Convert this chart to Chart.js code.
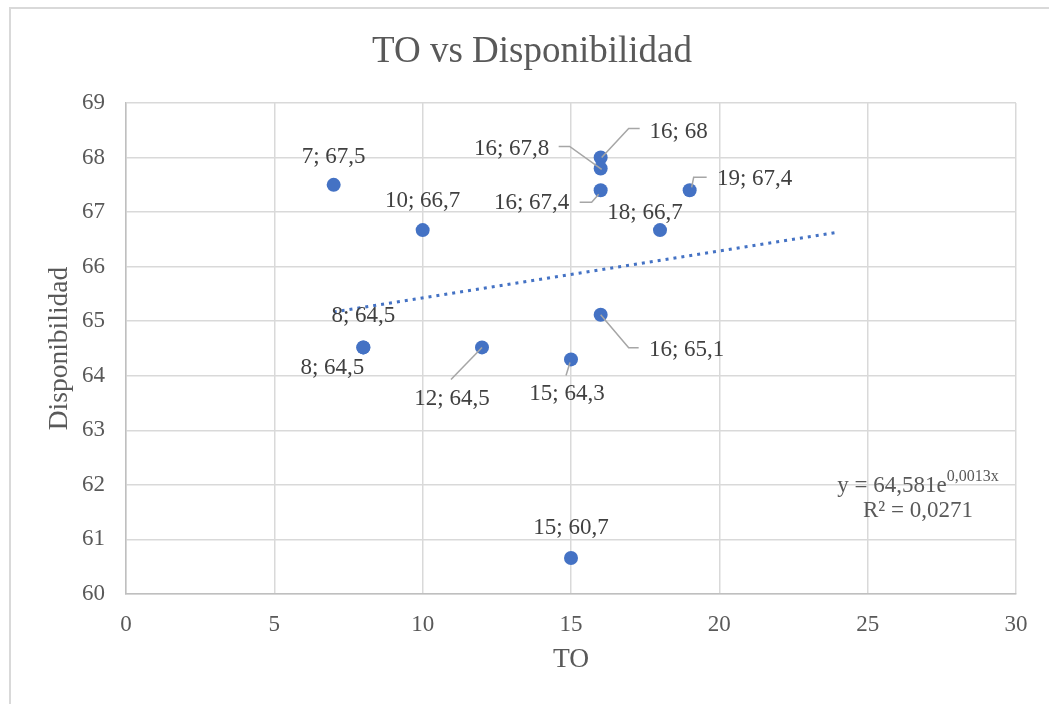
<!DOCTYPE html>
<html>
<head>
<meta charset="utf-8">
<script src="https://cdn.jsdelivr.net/npm/chart.js@4/dist/chart.umd.min.js"></script>
<style>
  body { margin: 0; background: #fff; }
  #wrap { width: 1049px; height: 704px; position: relative; }
</style>
</head>
<body>
<div id="wrap"><canvas id="toChart"></canvas></div>
<script>
// datos
const toValues = [7, 10, 16, 16, 16, 19, 18, 16, 8, 8, 12, 15, 15];
const dispValues = [67.5, 66.67, 68, 67.8, 67.4, 67.4, 66.67, 65.12, 64.52, 64.52, 64.52, 64.3, 60.66];
const trendX = [7, 24];
const trendY = [65.17, 66.63];
const xTicks = [0, 5, 10, 15, 20, 25, 30];
const yTicks = [60, 61, 62, 63, 64, 65, 66, 67, 68, 69];

const chartTitle = "TO vs Disponibilidad";
const xTitle = "TO";
const yTitle = "Disponibilidad";
const eqMain = "y = 64,581e";
const eqExp = "0,0013x";
const eqR2 = "R² = 0,0271";

const SERIF = "'Liberation Serif', 'Times New Roman', serif";
const BLUE = "#4472C4";

// label placement (px, relative to the point, text baseline)
const labelOffsets = [
  [0, -22], [0, -23], [78, -20], [-89, -13], [-69, 19], [65, -5], [-15, -11],
  [86, 41], [0, -25], [-31, 27], [-30, 58], [-4, 41], [0, -24]
];
const leaders = {
  2: [[1, 0], [28, -29], [39, -29]],
  3: [[1, 1], [-31, -22], [-42, -22]],
  4: [[-2, 4], [-9, 12], [-21, 12]],
  5: [[2, -3], [4, -13], [17, -13]],
  7: [[0, 0], [28, 33], [38, 33]],
  10: [[0, 0], [-31, 32]],
  11: [[-1, 3], [-5, 16]]
};

const fmt = v => String(Math.round(v * 10) / 10).replace(".", ",");

const excelBits = {
  id: "excelBits",
  beforeDraw(chart) {
    const ctx = chart.ctx;
    ctx.save();
    ctx.fillStyle = "#fff";
    ctx.fillRect(0, 0, chart.width, chart.height);
    ctx.strokeStyle = "#d9d9d9";
    ctx.lineWidth = 2;
    ctx.strokeRect(10, 8, 1100, 800);
    ctx.fillStyle = "#595959";
    ctx.font = "37px " + SERIF;
    ctx.textAlign = "center";
    ctx.textBaseline = "alphabetic";
    ctx.fillText(chartTitle, 532, 62);
    ctx.restore();
  },
  afterDatasetsDraw(chart) {
    const ctx = chart.ctx;
    const pts = chart.getDatasetMeta(0).data;
    ctx.save();
    ctx.strokeStyle = "#a6a6a6";
    ctx.lineWidth = 1.5;
    Object.keys(leaders).forEach(k => {
      const p = pts[k];
      const seg = leaders[k];
      ctx.beginPath();
      seg.forEach((o, j) => {
        if (j == 0) ctx.moveTo(p.x + o[0], p.y + o[1]);
        else ctx.lineTo(p.x + o[0], p.y + o[1]);
      });
      ctx.stroke();
    });
    ctx.fillStyle = "#404040";
    ctx.font = "23px " + SERIF;
    ctx.textAlign = "center";
    ctx.textBaseline = "alphabetic";
    pts.forEach((p, i) => {
      const o = labelOffsets[i];
      ctx.fillText(toValues[i] + "; " + fmt(dispValues[i]), p.x + o[0], p.y + o[1]);
    });

    // trendline equation
    ctx.fillStyle = "#595959";
    ctx.font = "23px " + SERIF;
    const w1 = ctx.measureText(eqMain).width;
    ctx.font = "16px " + SERIF;
    const w2 = ctx.measureText(eqExp).width;
    const x0 = 918 - (w1 + w2) / 2;
    ctx.textAlign = "left";
    ctx.font = "23px " + SERIF;
    ctx.fillText(eqMain, x0, 492);
    ctx.font = "16px " + SERIF;
    ctx.fillText(eqExp, x0 + w1, 481);
    ctx.font = "23px " + SERIF;
    ctx.textAlign = "center";
    ctx.fillText(eqR2, 918, 517);
    ctx.restore();
  }
};

new Chart(document.getElementById("toChart"), {
  type: "scatter",
  data: {
    datasets: [
      {
        label: "Disponibilidad",
        data: toValues.map((x, i) => ({ x: x, y: dispValues[i] })),
        backgroundColor: BLUE,
        borderColor: BLUE,
        borderWidth: 0,
        pointRadius: 7,
        pointHoverRadius: 7
      },
      {
        label: "Exponencial",
        data: trendX.map((x, i) => ({ x: x, y: trendY[i] })),
        showLine: true,
        borderColor: BLUE,
        borderWidth: 3,
        borderDash: [3, 5],
        pointRadius: 0,
        fill: false
      }
    ]
  },
  plugins: [excelBits],
  options: {
    responsive: true,
    maintainAspectRatio: false,
    animation: false,
    events: [],
    layout: { padding: { left: 0, top: 103, right: 33, bottom: 0 } },
    plugins: {
      legend: { display: false },
      tooltip: { enabled: false },
      title: { display: false }
    },
    scales: {
      x: {
        type: "linear",
        min: xTicks[0],
        max: xTicks[xTicks.length - 1],
        afterBuildTicks: s => { s.ticks = xTicks.map(v => ({ value: v })); },
        afterFit: s => { s.height = 110; },
        grid: { color: "#d9d9d9", lineWidth: 1.5, drawTicks: false },
        border: { color: "#bfbfbf", width: 1.5 },
        ticks: { color: "#595959", font: { family: SERIF, size: 23 }, padding: 17 },
        title: {
          display: true, text: xTitle, color: "#595959",
          font: { family: SERIF, size: 27.5 }, padding: { top: 0, bottom: 28 }
        }
      },
      y: {
        type: "linear",
        min: yTicks[0],
        max: yTicks[yTicks.length - 1],
        afterBuildTicks: s => { s.ticks = yTicks.map(v => ({ value: v })); },
        afterFit: s => { s.width = 126; },
        grid: { color: "#d9d9d9", lineWidth: 1.5, drawTicks: false },
        border: { color: "#bfbfbf", width: 1.5 },
        ticks: { color: "#595959", font: { family: SERIF, size: 23 }, padding: 21 },
        title: {
          display: true, text: yTitle, color: "#595959",
          font: { family: SERIF, size: 27.5 }, padding: { top: 43, bottom: 0 }
        }
      }
    }
  }
});
</script>
</body>
</html>
